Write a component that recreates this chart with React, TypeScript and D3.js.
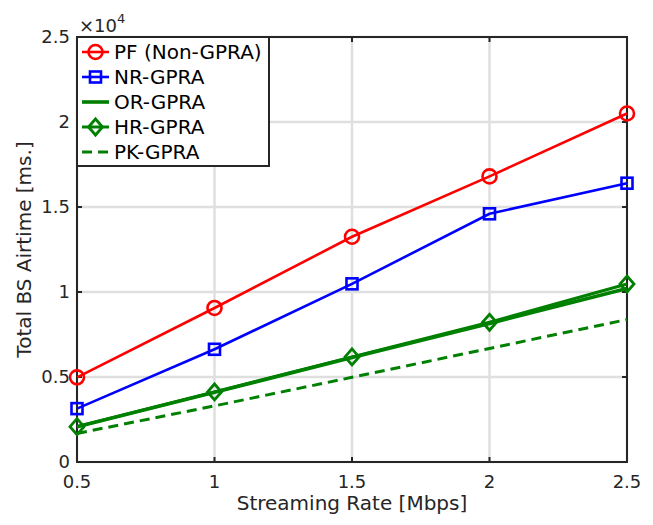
import * as d3 from 'd3';
import { useEffect, useRef } from 'react';

const rates = [0.5, 1, 1.5, 2, 2.5];
const pfVals = [4980, 9060, 13250, 16800, 20500];
const nrVals = [3140, 6630, 10480, 14600, 16400];
const orVals = [2080, 4100, 6150, 8150, 10200];
const hrVals = [2080, 4120, 6180, 8220, 10470];
const pkVals = [1680, 3300, 4980, 6680, 8380];

const xTicks = [0.5, 1, 1.5, 2, 2.5];
const yTicks = [0, 5000, 10000, 15000, 20000, 25000];

const series = [
  { name: 'PF (Non-GPRA)', values: pfVals, color: '#ff0000', width: 2.6, marker: 'circle', dash: '' },
  { name: 'NR-GPRA', values: nrVals, color: '#0000ff', width: 2.6, marker: 'square', dash: '' },
  { name: 'OR-GPRA', values: orVals, color: '#008000', width: 3.6, marker: 'none', dash: '' },
  { name: 'HR-GPRA', values: hrVals, color: '#008000', width: 3, marker: 'diamond', dash: '' },
  { name: 'PK-GPRA', values: pkVals, color: '#008000', width: 3, marker: 'none', dash: '10,6' },
];

const FONT = '"DejaVu Sans", sans-serif';
const AX = '#262626';

export default function App() {
  const ref = useRef<SVGSVGElement>(null);

  useEffect(() => {
    const width = 653;
    const height = 525;
    const margin = { top: 37, right: 26, bottom: 63, left: 77 };
    const iw = width - margin.left - margin.right;
    const ih = height - margin.top - margin.bottom;

    const svg = d3.select(ref.current);
    svg.selectAll('*').remove();
    svg.attr('width', width).attr('height', height);

    const x = d3.scaleLinear().domain([0.5, 2.5]).range([0, iw]);
    const y = d3.scaleLinear().domain([0, 25000]).range([ih, 0]);

    const g = svg.append('g').attr('transform', `translate(${margin.left},${margin.top})`);

    g.append('rect').attr('width', iw).attr('height', ih).attr('fill', '#fff');

    // grid
    g.selectAll('.gx').data(xTicks).enter().append('line')
      .attr('x1', d => x(d)).attr('x2', d => x(d)).attr('y1', 0).attr('y2', ih)
      .attr('stroke', '#dfdfdf').attr('stroke-width', 2.5);
    g.selectAll('.gy').data(yTicks).enter().append('line')
      .attr('y1', d => y(d)).attr('y2', d => y(d)).attr('x1', 0).attr('x2', iw)
      .attr('stroke', '#dfdfdf').attr('stroke-width', 2.5);

    // tick marks, inside on all four sides
    const tl = 5;
    xTicks.forEach(t => {
      g.append('line').attr('x1', x(t)).attr('x2', x(t)).attr('y1', ih).attr('y2', ih - tl).attr('stroke', AX).attr('stroke-width', 2);
      g.append('line').attr('x1', x(t)).attr('x2', x(t)).attr('y1', 0).attr('y2', tl).attr('stroke', AX).attr('stroke-width', 2);
    });
    yTicks.forEach(t => {
      g.append('line').attr('y1', y(t)).attr('y2', y(t)).attr('x1', 0).attr('x2', tl).attr('stroke', AX).attr('stroke-width', 2);
      g.append('line').attr('y1', y(t)).attr('y2', y(t)).attr('x1', iw).attr('x2', iw - tl).attr('stroke', AX).attr('stroke-width', 2);
    });

    g.append('rect').attr('width', iw).attr('height', ih)
      .attr('fill', 'none').attr('stroke', AX).attr('stroke-width', 2);

    // tick labels
    g.selectAll('.xl').data(xTicks).enter().append('text')
      .attr('x', d => x(d)).attr('y', ih + 26)
      .attr('text-anchor', 'middle').attr('font-family', FONT).attr('font-size', 18).attr('fill', AX)
      .text(d => String(d));
    g.selectAll('.yl').data(yTicks).enter().append('text')
      .attr('x', -7).attr('y', d => y(d)).attr('dy', '0.36em')
      .attr('text-anchor', 'end').attr('font-family', FONT).attr('font-size', 18).attr('fill', AX)
      .text(d => String(d / 10000));

    // exponent
    const ex = g.append('text').attr('x', 2).attr('y', -5).attr('font-family', FONT).attr('fill', AX);
    ex.append('tspan').attr('font-size', 18).text('×10');
    ex.append('tspan').attr('font-size', 13).attr('dy', -9).text('4');

    // axis labels
    svg.append('text').attr('x', margin.left + iw / 2).attr('y', 510)
      .attr('text-anchor', 'middle').attr('font-family', FONT).attr('font-size', 20).attr('fill', AX)
      .text('Streaming Rate [Mbps]');
    svg.append('text').attr('transform', `translate(31,${margin.top + ih / 2}) rotate(-90)`)
      .attr('text-anchor', 'middle').attr('font-family', FONT).attr('font-size', 20).attr('fill', AX)
      .text('Total BS Airtime [ms.]');

    const drawMarker = (sel: any, kind: string, cx: number, cy: number, color: string) => {
      if (kind === 'circle') {
        sel.append('circle').attr('cx', cx).attr('cy', cy).attr('r', 7)
          .attr('fill', 'none').attr('stroke', color).attr('stroke-width', 2.6);
      } else if (kind === 'square') {
        sel.append('rect').attr('x', cx - 5.5).attr('y', cy - 5.5).attr('width', 11).attr('height', 11)
          .attr('fill', 'none').attr('stroke', color).attr('stroke-width', 2.6);
      } else if (kind === 'diamond') {
        sel.append('path').attr('d', `M${cx},${cy - 8}L${cx + 7},${cy}L${cx},${cy + 8}L${cx - 7},${cy}Z`)
          .attr('fill', 'none').attr('stroke', color).attr('stroke-width', 2.8);
      }
    };

    const line = d3.line<number>().x((_, i) => x(rates[i])).y(d => y(d));

    series.forEach(s => {
      g.append('path').attr('d', line(s.values) as string)
        .attr('fill', 'none').attr('stroke', s.color).attr('stroke-width', s.width)
        .attr('stroke-dasharray', s.dash || null);
      s.values.forEach((v, i) => drawMarker(g, s.marker, x(rates[i]), y(v), s.color));
    });

    // legend
    const lg = g.append('g');
    lg.append('rect').attr('x', 0).attr('y', 0).attr('width', 192).attr('height', 129)
      .attr('fill', '#fff').attr('stroke', AX).attr('stroke-width', 2);
    series.forEach((s, i) => {
      const cy = 15 + i * 25;
      lg.append('line').attr('x1', 5).attr('x2', 32).attr('y1', cy).attr('y2', cy)
        .attr('stroke', s.color).attr('stroke-width', s.width).attr('stroke-dasharray', s.dash || null);
      drawMarker(lg, s.marker, 18.5, cy, s.color);
      lg.append('text').attr('x', 37).attr('y', cy).attr('dy', '0.36em')
        .attr('font-family', FONT).attr('font-size', 20).attr('fill', '#000')
        .text(s.name);
    });
  }, []);

  return <svg ref={ref} style={{ position: 'absolute', left: 0, top: 0, display: 'block' }}></svg>;
}
